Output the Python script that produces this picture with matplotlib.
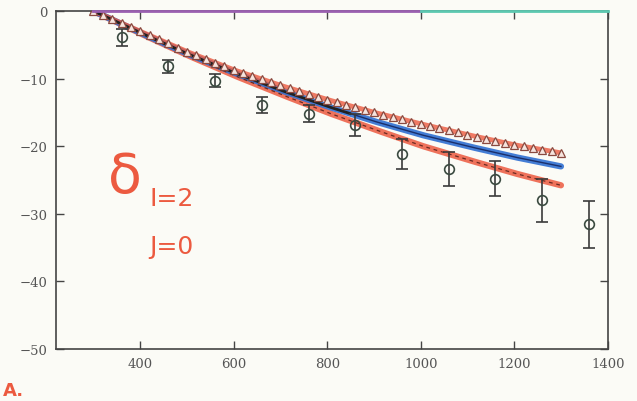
import matplotlib
matplotlib.use("Agg")
import matplotlib.pyplot as plt
import numpy as np

# ---- data ----
x_data = [360, 460, 560, 660, 760, 860, 960, 1060, 1160, 1260, 1360]
y_data = [-3.9, -8.2, -10.3, -13.9, -15.2, -16.9, -21.2, -23.4, -24.8, -28.0, -31.6]
y_err = [1.3, 1.0, 1.0, 1.2, 1.3, 1.6, 2.2, 2.5, 2.6, 3.2, 3.5]

x_curve = [300, 400, 500, 600, 700, 800, 900, 1000, 1100, 1200, 1300]
y_upper = [0, -3.0, -6.0, -8.7, -11.0, -13.1, -15.0, -16.7, -18.3, -19.8, -21.0]
y_blue = [0, -3.2, -6.3, -9.1, -11.7, -14.1, -16.3, -18.3, -20.0, -21.6, -23.0]
y_lower = [0, -3.3, -6.5, -9.5, -12.3, -15.0, -17.5, -19.9, -22.0, -24.0, -25.8]

x_tri = list(range(300, 1320, 20))

x_ticks = [400, 600, 800, 1000, 1200, 1400]
y_ticks = [0, -10, -20, -30, -40, -50]
y_ticklabels = ["0", "\u221210", "\u221220", "\u221230", "\u221240", "\u221250"]

# ---- figure ----
fig = plt.figure(figsize=(6.37, 4.02), dpi=100, facecolor="#fbfbf6")
ax = fig.add_axes([0.088, 0.130, 0.866, 0.840])
ax.set_facecolor("#fbfbf6")

red = "#ec5a40"
blue = "#2f6fd2"

xs = np.linspace(x_curve[0], x_curve[-1], 300)
up_s = np.interp(xs, x_curve, y_upper)
bl_s = np.interp(xs, x_curve, y_blue)
lo_s = np.interp(xs, x_curve, y_lower)

ax.plot(xs, lo_s, color=red, lw=4.5, alpha=0.85, solid_capstyle="round", zorder=2)
ax.plot(xs, lo_s, color="#6a2a22", lw=0.9, ls=(0, (3, 3)), zorder=3)
ax.plot(xs, bl_s, color=blue, lw=4.5, alpha=0.9, solid_capstyle="round", zorder=2)
ax.plot(xs, bl_s, color="#1b2f6a", lw=1.0, zorder=3)
ax.plot(xs, up_s, color=red, lw=3.5, alpha=0.8, solid_capstyle="round", zorder=2)
m = xs <= 850
ax.plot(xs[m], bl_s[m], color="#222222", lw=2.0, zorder=3)

y_tri = np.interp(x_tri, x_curve, y_upper)
ax.plot(x_tri, y_tri, ls="none", marker="^", ms=6, mfc="#f6e4de", mec="#8a4a40",
        mew=0.9, zorder=4)

ax.errorbar(x_data, y_data, yerr=y_err, fmt="o", ms=7, mfc="none", mec="#3a4a40",
            mew=1.2, ecolor="#3a3a3a", elinewidth=1.2, capsize=4, capthick=1.2, zorder=5)

# line along zero
ax.plot([300, 1000], [0, 0], color="#9a5fb0", lw=2.0, clip_on=False, zorder=6)
ax.plot([1000, 1400], [0, 0], color="#5cc8b0", lw=2.0, clip_on=False, zorder=6)

ax.set_xlim(220, 1400)
ax.set_ylim(-50, 0)
ax.set_xticks(x_ticks)
ax.set_yticks(y_ticks)
ax.set_yticklabels(y_ticklabels)
ax.tick_params(direction="in", length=6, width=1.0, color="#444444",
               top=True, right=True, labelcolor="#555555", labelsize=9.5, pad=6)
for lab in ax.get_xticklabels() + ax.get_yticklabels():
    lab.set_family("DejaVu Serif")
for s in ax.spines.values():
    s.set_color("#444444")
    s.set_linewidth(1.2)

# handwritten annotations
fig.text(0.170, 0.49, "\u03b4", color=red, fontsize=40, ha="left", va="bottom")
fig.text(0.235, 0.475, "I=2", color=red, fontsize=18, ha="left", va="bottom")
fig.text(0.235, 0.355, "J=0", color=red, fontsize=18, ha="left", va="bottom")
fig.text(0.004, 0.006, "A.", color=red, fontsize=13, ha="left", va="bottom",
         fontweight="bold")

fig.savefig("out.png", dpi=100, facecolor=fig.get_facecolor())
